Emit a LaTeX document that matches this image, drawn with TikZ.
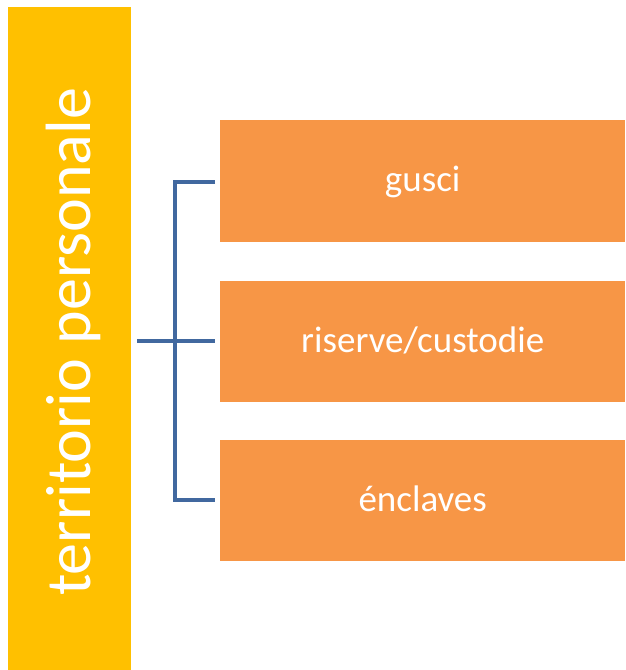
\documentclass[tikz,border=0pt]{standalone}
\usepackage{fontspec}
\setmainfont{Carlito}
\definecolor{barY}{HTML}{FFC000}
\definecolor{boxO}{HTML}{F79646}
\definecolor{lineB}{HTML}{41689F}
\begin{document}
\begin{tikzpicture}[x=1pt,y=-1pt,
  boxitem/.style={fill=boxO,draw=none,minimum width=405pt,minimum height=122pt,anchor=north west,inner sep=0pt,text=white,text height=23pt,text depth=2pt,font=\fontsize{37}{42}\selectfont},
  conn/.style={draw=lineB,line width=4.5pt}]
\useasboundingbox (0,0) rectangle (625,670);
\node[fill=barY,draw=none,anchor=north west,minimum width=123pt,minimum height=663pt,inner sep=0pt] (bar) at (8,7) {};
\node[rotate=90,anchor=base,text=white,font=\fontsize{64}{70}\selectfont] (bt) at (90,342) {territorio personale};
\node[boxitem] (b1) at (220,120) {gusci};
\node[boxitem,minimum height=121pt] (b2) at (220,281) {riserve/custodie};
\node[boxitem,minimum height=121pt] (b3) at (220,440) {énclaves};
\coordinate (s) at (137,341);
\coordinate (j) at (175,341);
\coordinate (e2) at (215,341);
\coordinate (t) at (175,182);
\coordinate (e1) at (215,182);
\coordinate (u) at (175,500);
\coordinate (e3) at (215,500);
\draw[conn] (s) -- (e2);
\draw[conn] (e1) -- (t) -- (u) -- (e3);
\end{tikzpicture}
\end{document}
